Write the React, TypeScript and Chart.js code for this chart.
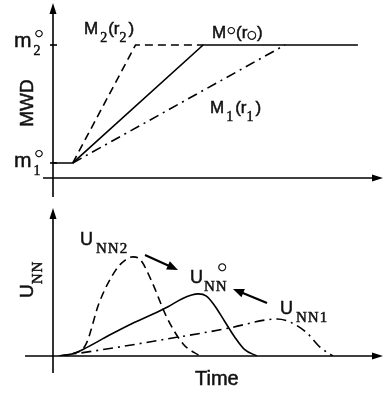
import React, { useEffect, useRef } from "react";
import { Chart, registerables } from "chart.js";
Chart.register(...registerables);

// ---------- Top panel: MWD vs time ----------
const m1Level = 0.86;
const m2Level = 7.6;
const m2Times = [6, 25, 45.5];
const m2Values = [m1Level, m2Level, m2Level];
const m0Times = [0, 6, 45.5, 92.4];
const m0Values = [m1Level, m1Level, m2Level, m2Level];
const m1Times = [6, 70.3];
const m1Values = [m1Level, m2Level];

// ---------- Bottom panel: U_NN vs time ----------
const unn2Times = [2, 6, 10, 14, 19, 22, 24.2, 26.5, 30, 34.5, 39.5, 44.5];
const unn2Values = [0, 0.15, 0.8, 3.6, 5.8, 6.5, 6.7, 6.5, 5.0, 2.6, 0.8, 0];
const unn0Times = [2, 6, 10, 17, 24, 30, 35, 39, 42, 44, 46.5, 49, 52, 55, 58, 61.8];
const unn0Values = [0, 0.15, 0.55, 1.4, 2.2, 2.8, 3.35, 3.85, 4.12, 4.2, 4.05, 3.4, 2.35, 1.3, 0.45, 0];
const unn1Times = [2, 14.2, 34.5, 53.6, 64.2, 67.9, 71.8, 77, 80.9, 84.8];
const unn1Values = [0, 0.4, 1.15, 1.9, 2.43, 2.5, 2.3, 1.55, 0.6, 0];

const SANS = '"Liberation Sans", Arial, sans-serif';
const SERIF = '"Liberation Serif", "Times New Roman", serif';
const SYM = '"DejaVu Sans", sans-serif';
const DASH = [8, 5];
const DASHDOT = [10, 5, 2, 5];

const pts = (xs: number[], ys: number[]) => xs.map((x, i) => ({ x, y: ys[i] }));

type Run = { t: string; f: string; dy?: number; dx?: number; ls?: string };
function drawRuns(ctx: CanvasRenderingContext2D, x: number, y: number, runs: Run[]) {
  let cx = x;
  ctx.lineWidth = 0.5;
  ctx.strokeStyle = "#111";
  for (const r of runs) {
    ctx.font = r.f;
    (ctx as any).letterSpacing = r.ls || "0px";
    cx += r.dx || 0;
    ctx.fillText(r.t, cx, y + (r.dy || 0));
    ctx.strokeText(r.t, cx, y + (r.dy || 0));
    cx += ctx.measureText(r.t).width;
  }
  (ctx as any).letterSpacing = "0px";
}

function line(ctx: CanvasRenderingContext2D, x1: number, y1: number, x2: number, y2: number) {
  ctx.beginPath();
  ctx.moveTo(x1, y1);
  ctx.lineTo(x2, y2);
  ctx.stroke();
}

function arrowHead(ctx: CanvasRenderingContext2D, tx: number, ty: number, fx: number, fy: number, len = 11, half = 3.5) {
  const a = Math.atan2(ty - fy, tx - fx);
  const bx = tx - len * Math.cos(a);
  const by = ty - len * Math.sin(a);
  ctx.beginPath();
  ctx.moveTo(tx, ty);
  ctx.lineTo(bx + half * Math.sin(a), by - half * Math.cos(a));
  ctx.lineTo(bx - half * Math.sin(a), by + half * Math.cos(a));
  ctx.closePath();
  ctx.fill();
}

function arrow(ctx: CanvasRenderingContext2D, fx: number, fy: number, tx: number, ty: number) {
  ctx.lineWidth = 2.2;
  const a = Math.atan2(ty - fy, tx - fx);
  line(ctx, fx, fy, tx - 6 * Math.cos(a), ty - 6 * Math.sin(a));
  arrowHead(ctx, tx, ty, fx, fy, 11, 4.5);
}

const topDecor = {
  id: "topDecor",
  afterDraw(chart: any) {
    const { ctx } = chart;
    const xs = chart.scales.x;
    const ys = chart.scales.y;
    const x0 = xs.getPixelForValue(0);
    const y0 = ys.getPixelForValue(0);
    const { top, right } = chart.chartArea;
    ctx.save();
    ctx.strokeStyle = "#000";
    ctx.fillStyle = "#000";
    ctx.lineWidth = 1.6;
    ctx.setLineDash([]);
    line(ctx, x0, top + 8, x0, y0 + 19);
    arrowHead(ctx, x0, top, x0, top + 20);
    line(ctx, x0 - 10, y0, right - 8, y0);
    arrowHead(ctx, right, y0, right - 20, y0);
    for (const lv of [m1Level, m2Level]) {
      const py = ys.getPixelForValue(lv);
      line(ctx, x0 - 3, py, x0 + 4, py);
    }
    ctx.fillStyle = "#111";
    ctx.textBaseline = "alphabetic";
    ctx.textAlign = "left";
    // m2°, m1°
    drawRuns(ctx, 14, 47, [{ t: "m", f: `21px ${SANS}` }, { t: "2", f: `14px ${SERIF}`, dy: 8, dx: 2 }]);
    drawRuns(ctx, 35, 36, [{ t: "○", f: `9px ${SYM}` }]);
    drawRuns(ctx, 14, 167, [{ t: "m", f: `21px ${SANS}` }, { t: "1", f: `14px ${SERIF}`, dy: 8, dx: 2 }]);
    drawRuns(ctx, 35, 156, [{ t: "○", f: `9px ${SYM}` }]);
    // MWD
    ctx.save();
    ctx.translate(33, 103);
    ctx.rotate(-Math.PI / 2);
    ctx.textAlign = "center";
    ctx.font = `19px ${SANS}`;
    ctx.lineWidth = 0.5;
    ctx.strokeStyle = "#111";
    ctx.fillText("MWD", 0, 0);
    ctx.strokeText("MWD", 0, 0);
    ctx.restore();
    // M2(r2)
    drawRuns(ctx, 84, 34, [
      { t: "M", f: `17px ${SANS}` },
      { t: "2", f: `14px ${SERIF}`, dy: 8, dx: 2 },
      { t: "(r", f: `17px ${SANS}`, dx: 1 },
      { t: "2", f: `14px ${SERIF}`, dy: 8 },
      { t: ")", f: `17px ${SANS}`, dx: 2 },
    ]);
    // M°(r°)
    drawRuns(ctx, 212, 38, [
      { t: "M", f: `17px ${SANS}` },
      { t: "○", f: `9px ${SYM}`, dy: -5, dx: 1 },
      { t: "(r", f: `17px ${SANS}`, dx: 1 },
      { t: "○", f: `11px ${SYM}`, dy: 0 },
      { t: ")", f: `17px ${SANS}` },
    ]);
    // M1(r1)
    drawRuns(ctx, 210, 113, [
      { t: "M", f: `17px ${SANS}` },
      { t: "1", f: `14px ${SERIF}`, dy: 8, dx: 2 },
      { t: "(r", f: `17px ${SANS}`, dx: 2 },
      { t: "1", f: `14px ${SERIF}`, dy: 8 },
      { t: ")", f: `17px ${SANS}`, dx: 2 },
    ]);
    ctx.restore();
  },
};

const bottomDecor = {
  id: "bottomDecor",
  afterDraw(chart: any) {
    const { ctx } = chart;
    const xs = chart.scales.x;
    const ys = chart.scales.y;
    const x0 = xs.getPixelForValue(0);
    const y0 = ys.getPixelForValue(0);
    const { top, right } = chart.chartArea;
    ctx.save();
    ctx.strokeStyle = "#000";
    ctx.fillStyle = "#000";
    ctx.lineWidth = 1.6;
    ctx.setLineDash([]);
    line(ctx, x0, top + 8, x0, y0 + 17);
    arrowHead(ctx, x0, top, x0, top + 20);
    line(ctx, x0 - 28, y0, right - 8, y0);
    arrowHead(ctx, right, y0, right - 20, y0);
    // label arrows
    arrow(ctx, 145, 55, 178, 70);
    arrow(ctx, 267, 103, 233, 89);
    ctx.fillStyle = "#111";
    ctx.textAlign = "left";
    ctx.textBaseline = "alphabetic";
    drawRuns(ctx, 80, 45, [
      { t: "U", f: `18px ${SANS}` },
      { t: "NN2", f: `15px ${SERIF}`, dy: 8, dx: 3, ls: "1px" },
    ]);
    drawRuns(ctx, 190, 83, [
      { t: "U", f: `18px ${SANS}` },
      { t: "NN", f: `15px ${SERIF}`, dy: 8, dx: 1, ls: "1px" },
    ]);
    drawRuns(ctx, 218, 70, [{ t: "○", f: `10px ${SYM}` }]);
    drawRuns(ctx, 280, 114, [
      { t: "U", f: `18px ${SANS}` },
      { t: "NN1", f: `15px ${SERIF}`, dy: 8, dx: 3, ls: "1px" },
    ]);
    // y label
    ctx.save();
    ctx.translate(33, 98);
    ctx.rotate(-Math.PI / 2);
    drawRuns(ctx, 0, 0, [
      { t: "U", f: `19px ${SANS}` },
      { t: "NN", f: `15px ${SERIF}`, dy: 9, ls: "1px" },
    ]);
    ctx.restore();
    drawRuns(ctx, 195, 185, [{ t: "Time", f: `20px ${SANS}` }]);
    ctx.restore();
  },
};

const baseOptions = (padding: any) => ({
  responsive: false,
  animation: false as const,
  layout: { padding },
  plugins: { legend: { display: false }, tooltip: { enabled: false } },
  elements: { point: { radius: 0 } },
});

export default function App() {
  const topRef = useRef<HTMLCanvasElement>(null);
  const botRef = useRef<HTMLCanvasElement>(null);

  useEffect(() => {
    const common = { borderColor: "#000", borderWidth: 1.6, pointRadius: 0, fill: false };
    const top = new Chart(topRef.current!, {
      type: "line",
      data: {
        datasets: [
          { ...common, label: "M2(r2)", data: pts(m2Times, m2Values), borderDash: DASH },
          { ...common, label: "M°(r°)", data: pts(m0Times, m0Values) },
          { ...common, label: "M1(r1)", data: pts(m1Times, m1Values), borderDash: DASHDOT },
        ],
      },
      options: {
        ...baseOptions({ left: 53, right: 2, top: 3, bottom: 22 }),
        scales: {
          x: { type: "linear", min: 0, max: 100, display: false },
          y: { min: 0, max: 10, display: false },
        },
      } as any,
      plugins: [topDecor],
    });
    const bot = new Chart(botRef.current!, {
      type: "line",
      data: {
        datasets: [
          { ...common, label: "UNN2", data: pts(unn2Times, unn2Values), borderDash: DASH, cubicInterpolationMode: "monotone" },
          { ...common, label: "UNN°", data: pts(unn0Times, unn0Values), cubicInterpolationMode: "monotone" },
          { ...common, label: "UNN1", data: pts(unn1Times, unn1Values), borderDash: DASHDOT, cubicInterpolationMode: "monotone" },
        ],
      },
      options: {
        ...baseOptions({ left: 53, right: 2, top: 8, bottom: 42 }),
        scales: {
          x: { type: "linear", min: 0, max: 100, display: false },
          y: { min: 0, max: 10, display: false },
        },
      } as any,
      plugins: [bottomDecor],
    });
    return () => {
      top.destroy();
      bot.destroy();
    };
  }, []);

  return (
    <div style={{ position: "fixed", left: 0, top: 0, width: 385, height: 398, background: "#fff" }}>
      <canvas ref={topRef} width={385} height={200} style={{ position: "absolute", left: 0, top: 0, width: 385, height: 200 }} />
      <canvas ref={botRef} width={385} height={198} style={{ position: "absolute", left: 0, top: 200, width: 385, height: 198 }} />
    </div>
  );
}
